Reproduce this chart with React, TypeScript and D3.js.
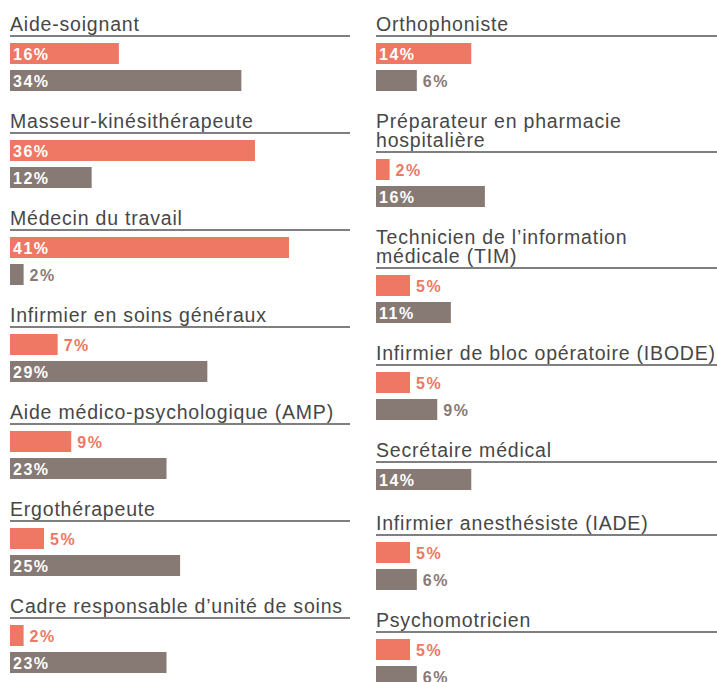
import React from "react";
import * as d3 from "d3";

const leftCategories = [
  ["Aide-soignant"],
  ["Masseur-kinésithérapeute"],
  ["Médecin du travail"],
  ["Infirmier en soins généraux"],
  ["Aide médico-psychologique (AMP)"],
  ["Ergothérapeute"],
  ["Cadre responsable d’unité de soins"],
];
const leftSeriesA = [16, 36, 41, 7, 9, 5, 2];
const leftSeriesB = [34, 12, 2, 29, 23, 25, 23];

const rightCategories = [
  ["Orthophoniste"],
  ["Préparateur en pharmacie", "hospitalière"],
  ["Technicien de l’information", "médicale (TIM)"],
  ["Infirmier de bloc opératoire (IBODE)"],
  ["Secrétaire médical"],
  ["Infirmier anesthésiste (IADE)"],
  ["Psychomotricien"],
];
const rightSeriesA: (number | null)[] = [14, 2, 5, 5, null, 5, 5];
const rightSeriesB = [6, 16, 11, 9, 14, 6, 6];

const W = 717;
const H = 682;
const COLOR_A = "#EE7863";
const COLOR_B = "#877A74";
const TITLE_COLOR = "#474747";
const RULE_COLOR = "#555555";

const x = d3.scaleLinear().domain([0, 41]).range([0, 279]);

const BAR_H = 21;
const BAR_STEP = 27;
const LINE_H = 19;

type Group = { lines: string[]; values: { v: number; color: string }[] };

function buildGroups(cats: string[][], a: (number | null)[], b: number[]): Group[] {
  return cats.map((lines, i) => {
    const values: { v: number; color: string }[] = [];
    if (a[i] != null) values.push({ v: a[i] as number, color: COLOR_A });
    values.push({ v: b[i], color: COLOR_B });
    return { lines, values };
  });
}

function Column({ groups, x0, ruleEnd }: { groups: Group[]; x0: number; ruleEnd: number }) {
  let rule = 36;
  const out: React.ReactNode[] = [];
  groups.forEach((g, gi) => {
    if (gi > 0) {
      const prev = groups[gi - 1];
      rule = rule + prev.values.length * BAR_STEP + 24 + g.lines.length * LINE_H + (prev.values.length === 1 ? 3 : 0);
    }
    const r = rule;
    out.push(
      <g key={gi}>
        {g.lines.map((ln, li) => (
          <text
            key={li}
            x={x0}
            y={r - 5 - (g.lines.length - 1 - li) * LINE_H}
            fontFamily="'Liberation Sans', Arial, sans-serif"
            fontSize={19.5}
            letterSpacing={0.8}
            fill={TITLE_COLOR}
          >
            {ln}
          </text>
        ))}
        <line x1={x0} x2={ruleEnd} y1={r} y2={r} stroke={RULE_COLOR} strokeWidth={1.5} />
        {g.values.map((d, k) => {
          const y = r + 7 + k * BAR_STEP;
          const w = x(d.v);
          const inside = d.v >= 10;
          return (
            <g key={k}>
              <rect x={x0} y={y} width={w} height={BAR_H} fill={d.color} />
              <text
                x={inside ? x0 + 3 : x0 + w + 6}
                y={y + BAR_H / 2 + 6}
                fontFamily="'Liberation Sans', Arial, sans-serif"
                fontWeight="bold"
                fontSize={16}
                letterSpacing={1.5}
                fill={inside ? "#ffffff" : d.color}
              >
                {d.v + "%"}
              </text>
            </g>
          );
        })}
      </g>
    );
  });
  return <g>{out}</g>;
}

export default function App() {
  const left = buildGroups(leftCategories, leftSeriesA, leftSeriesB);
  const right = buildGroups(rightCategories, rightSeriesA, rightSeriesB);
  return (
    <svg
      width={W}
      height={H}
      style={{ position: "absolute", left: 0, top: 0, background: "#fff" }}
    >
      <rect width={W} height={H} fill="#fff" />
      <Column groups={left} x0={10} ruleEnd={350} />
      <Column groups={right} x0={376} ruleEnd={717} />
    </svg>
  );
}
